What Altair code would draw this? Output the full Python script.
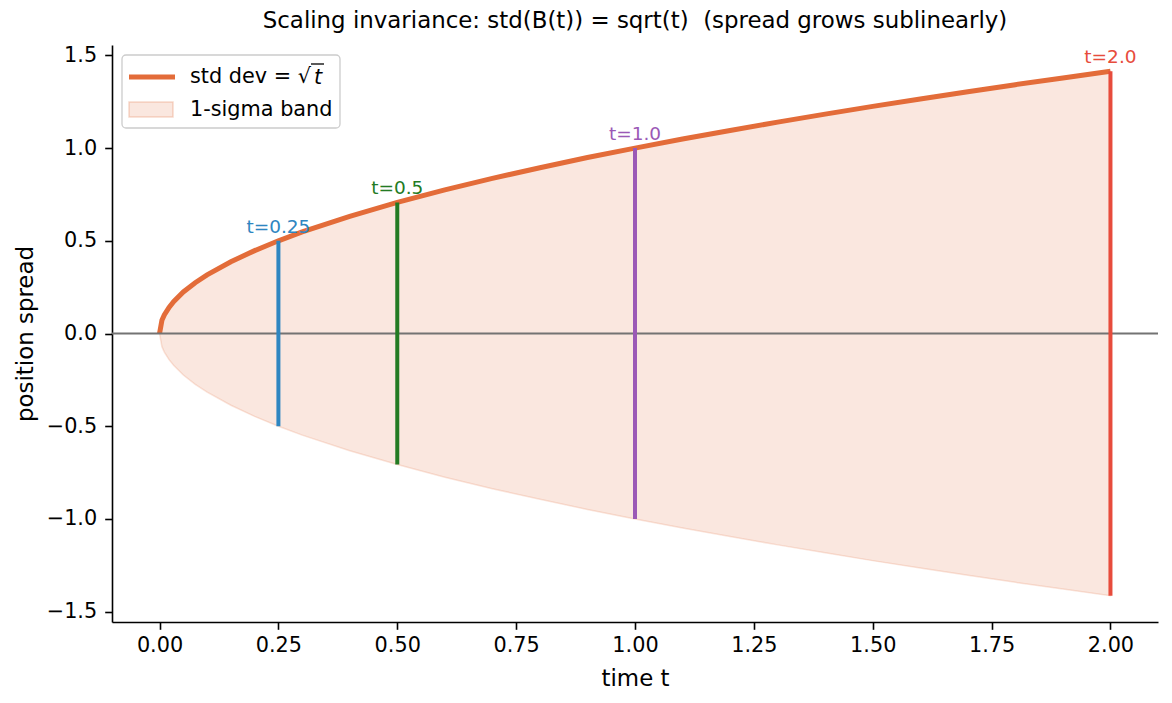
import altair as alt
import pandas as pd

# ---- data ----
t_vals = [0, 0.005, 0.01, 0.02, 0.03, 0.05, 0.075, 0.1, 0.15, 0.2, 0.25, 0.3, 0.4, 0.5,
          0.6, 0.7, 0.8, 0.9, 1.0, 1.1, 1.2, 1.3, 1.4, 1.5, 1.6, 1.7, 1.8, 1.9, 2.0]
sd_vals = [0, 0.071, 0.1, 0.141, 0.173, 0.224, 0.274, 0.316, 0.387, 0.447, 0.5, 0.548, 0.632,
           0.707, 0.775, 0.837, 0.894, 0.949, 1.0, 1.049, 1.095, 1.14, 1.183, 1.225, 1.265,
           1.304, 1.342, 1.378, 1.414]

mark_t = [0.25, 0.5, 1.0, 2.0]
mark_sd = [0.5, 0.707, 1.0, 1.414]
mark_labels = ["t=0.25", "t=0.5", "t=1.0", "t=2.0"]
mark_colors = ["#2e86c1", "#237b23", "#9b59b6", "#e74c3c"]

x_ticks = [0, 0.25, 0.5, 0.75, 1.0, 1.25, 1.5, 1.75, 2.0]
y_ticks = [-1.5, -1.0, -0.5, 0.0, 0.5, 1.0, 1.5]

legend_labels = ["std dev = \u221a", "1-sigma band"]

ORANGE = "#e36c39"
FONT = "DejaVu Sans"

curve = pd.DataFrame({"t": t_vals, "sd": sd_vals})
marks = pd.DataFrame({"t": mark_t, "sd": mark_sd, "label": mark_labels, "color": mark_colors})

xs = alt.Scale(domain=[-0.1, 2.1], nice=False, zero=False)
ys = alt.Scale(domain=[-1.556, 1.556], nice=False, zero=False)

x_axis = alt.Axis(values=x_ticks, format=".2f", title="time t", grid=False,
                  titleY=63, titleBaseline="alphabetic", labelPadding=6)
y_axis = alt.Axis(values=y_ticks, format=".1f", title="position spread", grid=False,
                  titleX=-80, titleY=288.5, titleAngle=-90, titleBaseline="alphabetic",
                  titleAlign="center", labelPadding=8)

band = alt.Chart(curve).transform_calculate(lo="-datum.sd").mark_area(
    color=ORANGE, fillOpacity=0.16, stroke=ORANGE, strokeOpacity=0.18, strokeWidth=1.5
).encode(
    x=alt.X("t:Q", scale=xs, axis=x_axis),
    y=alt.Y("sd:Q", scale=ys, axis=y_axis),
    y2="lo:Q",
)

line = alt.Chart(curve).mark_line(color=ORANGE, strokeWidth=5).encode(
    x=alt.X("t:Q", scale=xs), y=alt.Y("sd:Q", scale=ys)
)

zero = alt.Chart(pd.DataFrame({"y": [0.0]})).mark_rule(color="#737373", strokeWidth=2).encode(
    y=alt.Y("y:Q", scale=ys)
)

rules = alt.Chart(marks).transform_calculate(lo="-datum.sd").mark_rule(strokeWidth=4).encode(
    x=alt.X("t:Q", scale=xs),
    y=alt.Y("sd:Q", scale=ys),
    y2="lo:Q",
    color=alt.Color("color:N", scale=None),
)

labels = alt.Chart(marks).mark_text(
    font=FONT, fontSize=18.5, baseline="bottom", align="center", dy=-4
).encode(
    x=alt.X("t:Q", scale=xs),
    y=alt.Y("sd:Q", scale=ys),
    text="label:N",
    color=alt.Color("color:N", scale=None),
)

# ---- legend (drawn as a framed box at upper left of the plot) ----
leg_box = alt.Chart(pd.DataFrame({"k": [0]})).mark_rect(
    fill="white", fillOpacity=0.85, stroke="#cccccc", strokeWidth=1.3, cornerRadius=4
).encode(x=alt.value(10), x2=alt.value(228), y=alt.value(10), y2=alt.value(83))

leg_line = alt.Chart(pd.DataFrame({"k": [0]})).mark_rule(color=ORANGE, strokeWidth=5).encode(
    x=alt.value(17), x2=alt.value(63), y=alt.value(32)
)
leg_patch = alt.Chart(pd.DataFrame({"k": [0]})).mark_rect(
    fill=ORANGE, fillOpacity=0.16, stroke=ORANGE, strokeOpacity=0.25, strokeWidth=1.5
).encode(x=alt.value(17), x2=alt.value(61), y=alt.value(57), y2=alt.value(72))

leg_text = alt.Chart(pd.DataFrame({"label": legend_labels, "yy": [32, 65]})).mark_text(
    font=FONT, fontSize=20.8, align="left", baseline="middle", color="black"
).encode(
    x=alt.value(78), y=alt.Y("yy:Q", scale=None), text="label:N"
)

# italic t after the radical sign
leg_t = alt.Chart(pd.DataFrame({"label": ["t"]})).mark_text(
    font=FONT, fontSize=20.8, fontStyle="italic", align="left", baseline="middle", color="black"
).encode(x=alt.value(202), y=alt.value(33), text="label:N")

# overbar of the radical
leg_bar = alt.Chart(pd.DataFrame({"k": [0]})).mark_rule(color="black", strokeWidth=1.3).encode(
    x=alt.value(199), x2=alt.value(212), y=alt.value(19)
)

chart = alt.layer(
    band, line, zero, rules, labels, leg_box, leg_line, leg_patch, leg_text, leg_t, leg_bar
).properties(
    width=1046, height=577,
    autosize=alt.AutoSizeParams(type="none"),
    padding={"left": 112, "top": 45, "right": 14, "bottom": 81},
    title=alt.TitleParams(
        "Scaling invariance: std(B(t)) = sqrt(t)\u00a0 (spread grows sublinearly)",
        font=FONT, fontSize=22.9, fontWeight="normal", color="black",
        anchor="middle", baseline="alphabetic", offset=16, dy=23,
    ),
).configure_view(stroke=None).configure_axis(
    labelFont=FONT, labelFontSize=20.8, labelColor="black",
    titleFont=FONT, titleFontSize=22.9, titleFontWeight="normal", titleColor="black",
    domainColor="black", domainWidth=1.6, tickColor="black", tickWidth=1.6, tickSize=7.3,
)

chart.save("out.html", embed_options={"renderer": "svg", "actions": False})
